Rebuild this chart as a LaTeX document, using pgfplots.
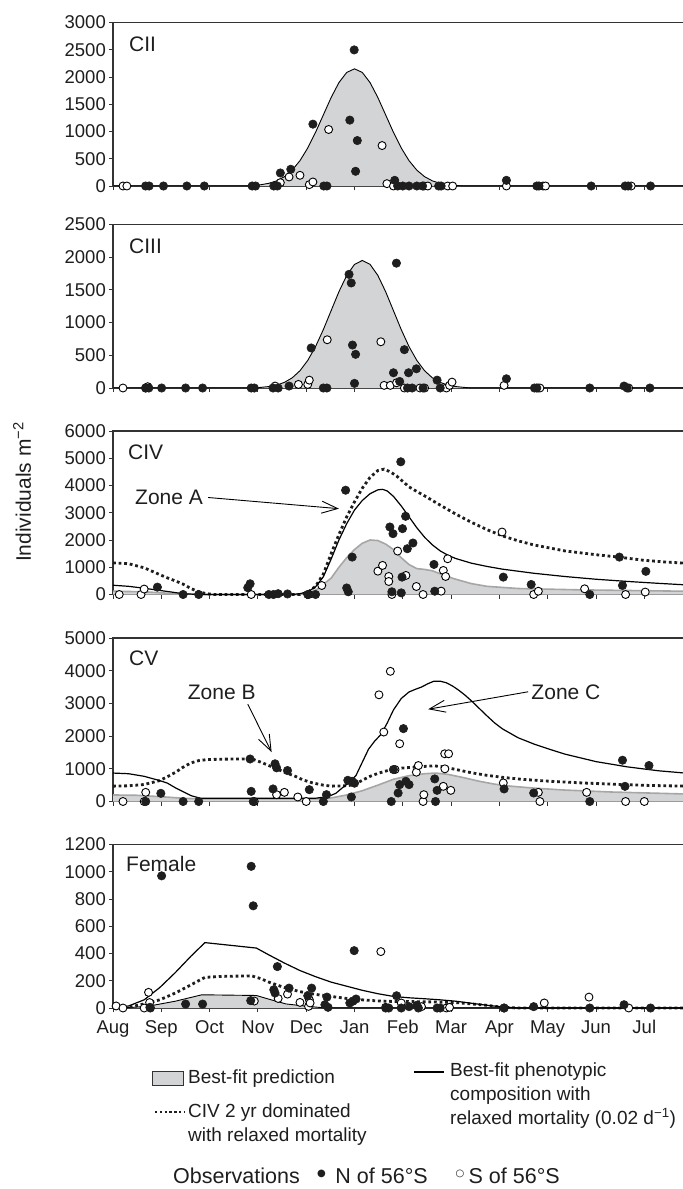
\documentclass[border=0pt]{standalone}
\usepackage{fontspec}
\setmainfont{Liberation Sans}
\newfontfamily\symfont{DejaVu Sans}
\usepackage{pgfplots}
\usepackage{pgfplotstable}
\pgfplotsset{compat=1.18}
\usetikzlibrary{arrows.meta}

\definecolor{ink}{HTML}{1E1E1E}
\definecolor{axisgray}{HTML}{333333}
\definecolor{fitfill}{HTML}{D3D4D6}
\definecolor{fitedge}{HTML}{A6A6A6}

\newcommand\tickfont{\fontsize{18.5bp}{20bp}\selectfont}
\newcommand\labfont{\fontsize{21bp}{24bp}\selectfont}
\newcommand\legfont{\fontsize{19bp}{24bp}\selectfont}
\newcommand\obsfont{\fontsize{21.5bp}{24bp}\selectfont}
\newcommand\keydot[1]{\raisebox{0.3em}{\symfont\fontsize{10bp}{10bp}\selectfont #1}}

\tikzset{
  fitarea/.style={fill=fitfill, draw=none},
  fitline/.style={black, line width=0.9bp},
  fitlinegray/.style={fitedge, line width=1.6bp},
  phenoline/.style={black, line width=1.2bp},
  dotline/.style={ink, line width=2.8bp, dash pattern=on 2.8bp off 2.8bp},
  zonearrow/.style={black, line width=0.9bp, -{Straight Barb[length=16bp, width=12bp, line width=0.9bp]}},
}
\pgfplotsset{
  panel/.style={
    scale only axis, width=571.8bp, height=163.5bp, anchor=north west,
    xmin=0, xmax=367, ymin=0, clip=false,
    axis line style={draw=axisgray, line width=1.1bp},
    tick style={draw=axisgray, line width=1bp},
    tick align=outside, xtick pos=left, ytick pos=left,
    major tick length=4bp,
    xtick={0,31,...,341}, xticklabels={},
    ticklabel style={font=\tickfont, text=ink},
    yticklabel style={inner sep=1bp, xshift=-2bp},
    xticklabel style={yshift=-5bp},
  },
  north/.style={only marks, mark=*, mark size=4.2bp, mark options={fill=ink, draw=ink, line width=0.6bp}},
  south/.style={only marks, mark=*, mark size=4bp, mark options={fill=white, draw=black, line width=0.9bp}},
}

% ---------- CII ----------
\pgfplotstableread{
d v
0 0
85 0
90 10
95 24
100 49
105 94
110 171
115 291
120 465
125 698
130 984
135 1304
140 1623
145 1897
150 2084
155 2150
160 2084
165 1897
170 1623
175 1304
180 984
185 698
190 465
195 291
200 171
205 94
210 49
215 24
220 10
225 0
367 0
}\ciifit
\pgfplotstableread{
d v
20.9 0
23.2 0
32.4 0
47.4 0
58.6 0
89.3 0
91.5 0
103.2 0
105.5 0
107.4 239
114.1 307
128.3 1135
135.3 0
137.3 0
152 1209
154.8 2497
155.7 270
156.8 834
180.8 104
182.7 0
186 0
190 0
195 0
198.7 0
209 0
210.6 0
252.5 104
272 0
273.4 0
306.9 0
328.7 0
330.6 0
345 0
}\ciin
\pgfplotstableread{
d v
6.4 0
8.9 0
107.4 61
113 166
120 196
126 25
128.3 74
138.4 1037
172.7 742
175.8 43
180 0
199.5 0
202 0
214.8 0
218 0
252.5 0
276 0
277.6 0
332.6 0
}\ciis

% ---------- CIII ----------
\pgfplotstableread{
d v
0 0
90 0
95 10
100 22
105 44
110 86
115 155
120 264
125 422
130 633
135 893
140 1183
145 1472
150 1721
155 1890
160 1950
165 1890
170 1721
175 1472
180 1183
185 893
190 633
195 422
200 264
205 155
210 86
215 44
220 22
225 10
230 0
367 0
}\ciiifit
\pgfplotstableread{
d v
21 0
23 0
31.2 0
46.6 0
57.5 0
88.7 0
90.7 0
102.7 0
106 0
113 30
127.2 612
135 0
137.3 0
151.5 1738
152.9 1606
153.7 657
155 71
155.7 515
180 233
181.9 1909
184 100
187 586
189 0
189.7 233
192 0
194.7 294
199 0
208 120
210 0
252.5 141
270.5 0
272 0
306 0
328 30
330 0
344.6 0
}\ciiin
\pgfplotstableread{
d v
6.4 0
20.9 0
22.3 20
104 30
119 55
125 55
126 120
137.5 738
171.9 707
174 40
178 40
182 80
187 0
197 0
200 0
214 0
216 40
217.6 90
251 40
273 0
274 0
331 0
}\ciiis

% ---------- CIV ----------
\pgfplotstableread{
d v
0 120
20 100
40 30
60 0
120 0
130 150
140 600
145 1000
150 1350
155 1650
160 1880
165 2000
170 1980
175 1850
180 1650
185 1350
190 1100
195 950
200 920
205 870
210 760
215 650
220 560
230 400
240 300
260 220
300 170
340 140
367 120
}\civfit
\pgfplotstableread{
d v
0 340
10 300
20 230
30 150
40 70
45 30
55 0
115 0
120 30
125 100
130 280
135 650
140 1300
145 2000
150 2600
155 3100
160 3450
165 3700
170 3840
173 3860
176 3800
180 3600
185 3250
190 2850
195 2450
200 2100
205 1820
210 1600
215 1440
220 1320
230 1150
240 1030
250 930
270 780
290 660
310 560
330 480
350 410
367 355
}\civpheno
\pgfplotstableread{
d v
0 1160
10 1130
20 980
24 880
30 730
34 630
40 500
45 380
50 220
55 100
60 30
65 0
120 0
125 80
130 300
135 750
140 1500
145 2200
150 2850
155 3400
160 3900
165 4300
170 4550
174 4600
178 4500
182 4350
186 4150
190 3950
195 3780
200 3620
205 3450
210 3280
220 2950
230 2650
240 2380
250 2150
260 1970
270 1820
290 1600
310 1460
325 1370
340 1260
355 1190
367 1150
}\civdot
\pgfplotstableread{
d v
28.5 270
45 0
55 0
86.5 250
88 393
100 0
103 0
106 30
112 20
125 0
130 0
149.3 3827
150 240
151 100
153.5 1373
177.7 2478
179 100
179.7 2233
184.7 4870
185 60
185.5 638
185.8 2417
187.8 2870
188.9 1680
192.5 1890
206 1104
206.5 121
250.5 638
268.4 368
306 0
325 1373
327 331
342 850
}\civn
\pgfplotstableread{
d v
4 0
18 0
20 200
88.7 0
125.5 0
134 331
170 857
173 1067
177 662
177 478
179 0
182.7 1594
188 699
194.7 294
199 0
210.6 123
212 883
213.5 662
214.8 1312
249.7 2293
270 0
273 120
302.7 209
329 0
341.6 90
}\civs

% ---------- CV ----------
\pgfplotstableread{
d v
0 200
15 190
30 150
45 100
56 80
130 80
140 110
150 200
160 330
170 500
180 680
190 790
200 850
207 870
215 830
225 730
235 620
245 530
255 470
270 410
290 350
320 290
367 230
}\cvfit
\pgfplotstableread{
d v
0 870
10 850
20 770
30 640
35 560
40 420
45 300
50 180
56 100
130 100
138 150
143 250
148 450
152 600
156 800
160 1200
164 1600
168 1850
172 2050
176 2400
180 2800
185 3150
190 3350
194 3430
198 3500
202 3600
206 3680
210 3680
214 3630
218 3530
222 3400
226 3250
230 3080
235 2850
240 2620
245 2400
250 2220
260 1950
270 1760
280 1600
290 1450
310 1220
330 1060
350 940
367 870
}\cvpheno
\pgfplotstableread{
d v
0 470
10 480
20 520
30 640
35 760
40 890
45 1050
50 1180
55 1250
60 1280
70 1295
80 1300
89 1306
95 1200
100 1100
106 980
112 860
117 770
122 660
128 570
135 500
140 470
150 480
155 520
160 650
165 770
170 860
178 970
185 1020
195 1060
206 1090
212 1060
220 980
230 880
240 800
250 740
262 680
280 620
300 570
320 530
345 490
367 470
}\cvdot
\pgfplotstableread{
d v
21 0
30.7 250
45 0
55 0
88 1300
88.7 310
90 0
102.7 384
104 1153
105 1030
112 947
126 362
135 0
137 209
150.7 649
153 138
153.5 618
155 560
178.6 0
180 977
183 260
184 516
186.4 2229
188 618
190 516
206.5 691
207 0
208 341
251 384
270 260
306 0
327 1263
328.6 464
344 1100
}\cvn
\pgfplotstableread{
d v
6.4 0
20 0
21 280
90.7 0
105 209
110 280
118.6 138
124 0
170.7 3263
173.8 2124
178 3981
181 977
184 1767
194.7 896
196 1100
199 0
199.5 209
212 464
212.9 1460
213 999
215.4 1460
216.8 341
250.5 569
273 280
274 0
304 280
329 0
341 0
}\cvs

% ---------- Female ----------
\pgfplotstableread{
d v
0 0
10 3
22 12
40 50
57 97
92 92
100 65
111 30
125 12
137 0
367 0
}\ffit
\pgfplotstableread{
d v
0 0
10 15
20 60
30 150
40 260
50 380
59 480
92 440
100 390
110 330
120 275
130 230
140 190
150 160
160 130
170 105
180 85
190 75
200 68
210 60
220 50
230 35
240 20
250 8
260 0
367 0
}\fpheno
\pgfplotstableread{
d v
0 0
10 5
20 30
30 60
40 110
50 170
59 225
70 232
89 236
95 215
100 190
110 150
120 120
130 100
140 85
150 70
160 60
170 52
180 48
200 46
220 40
240 20
250 5
260 0
367 0
}\fdot
\pgfplotstableread{
d v
23.7 5
24 0
31.2 970
46.6 29
57.5 29
88.4 54
88.7 1040
90 750
103.2 134
104 110
105.5 304
113 146
125 90
127.5 146
136 24
137.3 80
138 5
152 37
154 50
154.8 421
156 66
175 0
177 0
182 90
185 0
190 10
195 20
196 0
208 0
210 0
251 0
270 10
306 0
328 24
345 0
}\fn
\pgfplotstableread{
d v
2 15
6.4 0
20 0
22.8 115
23.5 40
90.7 51
106 70
112 102
120 41
125.5 12
126 61
126.5 37
171.9 414
175 5
185 37
198 10
214 0
216 5
251 0
276.8 37
305.5 80
331 0
}\fs

\begin{document}
\begin{tikzpicture}
\useasboundingbox (0,0) rectangle (683bp,-1189bp);

% y-axis title shared by all panels
\node[rotate=90, font=\labfont, text=ink] at (22bp,-492bp) {Individuals m\textsuperscript{−2}};

% CII
\begin{axis}[panel, at={(113bp,-22.5bp)}, ymax=3000,
  ytick={0,500,...,3000}, yticklabels={0,500,1000,1500,2000,2500,3000}]
  \addplot[fitarea] table {\ciifit} \closedcycle;
  \addplot[fitline] table {\ciifit};
  \addplot[south] table {\ciis};
  \addplot[north] table {\ciin};
  \node[anchor=west, inner sep=0, font=\labfont, text=ink] at (rel axis cs:0,1) [xshift=16bp, yshift=-22bp] {CII};
\end{axis}

% CIII
\begin{axis}[panel, at={(113bp,-224.5bp)}, ymax=2500,
  ytick={0,500,...,2500}, yticklabels={0,500,1000,1500,2000,2500}]
  \addplot[fitarea] table {\ciiifit} \closedcycle;
  \addplot[fitline] table {\ciiifit};
  \addplot[south] table {\ciiis};
  \addplot[north] table {\ciiin};
  \node[anchor=west, inner sep=0, font=\labfont, text=ink] at (rel axis cs:0,1) [xshift=16bp, yshift=-22bp] {CIII};
\end{axis}

% CIV
\begin{axis}[panel, at={(113bp,-431bp)}, ymax=6000,
  ytick={0,1000,...,6000}, yticklabels={0,1000,2000,3000,4000,5000,6000}]
  \addplot[fitarea] table {\civfit} \closedcycle;
  \addplot[fitlinegray] table {\civfit};
  \addplot[dotline] table {\civdot};
  \addplot[phenoline] table {\civpheno};
  \addplot[south] table {\civs};
  \addplot[north] table {\civn};
  \node[anchor=west, inner sep=0, font=\labfont, text=ink] at (rel axis cs:0,1) [xshift=15bp, yshift=-21bp] {CIV};
  \node[font=\labfont, text=ink, inner sep=0] at (axis cs:36,3581) {Zone A};
  \draw[zonearrow] (axis cs:61,3560) -- (axis cs:145,3150);
\end{axis}

% CV
\begin{axis}[panel, at={(113bp,-638bp)}, ymax=5000,
  ytick={0,1000,...,5000}, yticklabels={0,1000,2000,3000,4000,5000}]
  \addplot[fitarea] table {\cvfit} \closedcycle;
  \addplot[fitlinegray] table {\cvfit};
  \addplot[dotline] table {\cvdot};
  \addplot[phenoline] table {\cvpheno};
  \addplot[south] table {\cvs};
  \addplot[north] table {\cvn};
  \node[anchor=west, inner sep=0, font=\labfont, text=ink] at (rel axis cs:0,1) [xshift=16bp, yshift=-20bp] {CV};
  \node[font=\labfont, text=ink, inner sep=0] at (axis cs:69.8,3335) {Zone B};
  \draw[zonearrow] (axis cs:86.5,2976) -- (axis cs:101.8,1510);
  \node[font=\labfont, text=ink, inner sep=0] at (axis cs:290.7,3335) {Zone C};
  \draw[zonearrow] (axis cs:266.4,3355) -- (axis cs:202.3,2822);
\end{axis}

% Female
\begin{axis}[panel, at={(113bp,-844.5bp)}, ymax=1200,
  ytick={0,200,...,1200}, yticklabels={0,200,400,600,800,1000,1200},
  xticklabels={Aug,Sep,Oct,Nov,Dec,Jan,Feb,Mar,Apr,May,Jun,Jul}]
  \addplot[fitarea] table {\ffit} \closedcycle;
  \addplot[fitline] table {\ffit};
  \addplot[dotline] table {\fdot};
  \addplot[phenoline] table {\fpheno};
  \addplot[south] table {\fs};
  \addplot[north] table {\fn};
  \node[anchor=west, inner sep=0, font=\labfont, text=ink] at (rel axis cs:0,1) [xshift=13bp, yshift=-19bp] {Female};
\end{axis}

% key
\filldraw[fill=fitfill, draw=axisgray, line width=1bp] (152bp,-1071.5bp) rectangle (183bp,-1085bp);
\node[anchor=west, inner sep=0, font=\legfont, text=ink] at (188bp,-1078.3bp) {Best-fit prediction};
\draw[phenoline] (414bp,-1072bp) -- (444bp,-1072bp);
\node[anchor=north west, inner sep=0, font=\legfont, text=ink, align=left] at (450bp,-1063bp)
  {Best-fit phenotypic\\composition with\\relaxed mortality (0.02 d\textsuperscript{−1})};
\draw[dotline, line width=2.4bp, dash pattern=on 2.4bp off 2.4bp] (155bp,-1112bp) -- (184bp,-1112bp);
\node[anchor=north west, inner sep=0, font=\legfont, text=ink, align=left] at (188bp,-1104bp)
  {CIV 2 yr dominated\\with relaxed mortality};
\node[anchor=base west, inner sep=0, font=\obsfont, text=ink] at (173bp,-1183bp)
  {Observations\hspace{0.8em}\keydot{●}\hspace{0.45em}N of 56°S\hspace{1.3em}\keydot{○}\hspace{0.2em}S of 56°S};
\end{tikzpicture}
\end{document}
